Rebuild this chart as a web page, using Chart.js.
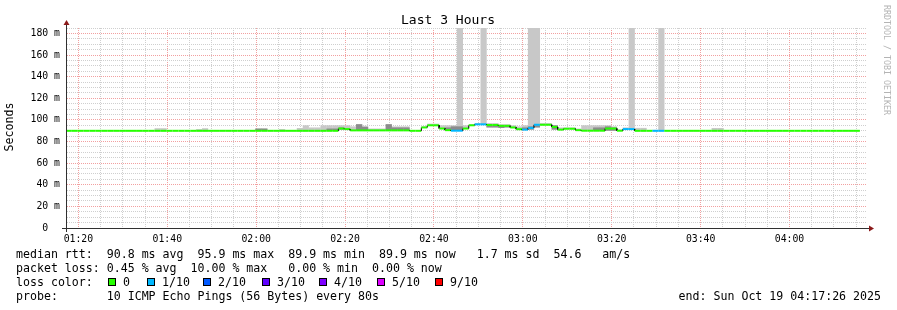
<!DOCTYPE html>
<html>
<head>
<meta charset="utf-8">
<script src="https://cdn.jsdelivr.net/npm/chart.js@4.4.1/dist/chart.umd.min.js"></script>
<style>
  html, body { margin: 0; padding: 0; background: #fff; }
  canvas { display: block; }
</style>
</head>
<body>
<canvas id="ping" width="897" height="310"></canvas>
<script>
// time is seconds since midnight, one sample every 80s
const axisStart = 4646;   // 01:17:26
const axisEnd = 15446;    // 04:17:26
const firstSample = 4630;
const sampleStep = 80;

// median rtt per sample (ms)
const median = [
  89.9, 89.9, 89.9, 89.9, 89.9, 89.9, 89.9, 89.9, 89.9, 89.9,
  89.9, 89.9, 89.9, 89.9, 89.9, 89.9, 89.9, 89.9, 89.9, 89.9,
  89.9, 89.9, 89.9, 89.9, 89.9, 89.9, 89.9, 89.9, 89.9, 89.9,
  89.9, 89.9, 89.9, 89.9, 89.9, 89.9, 89.9, 89.9, 89.9, 89.9,
  89.9, 89.9, 89.9, 89.9, 89.9, 89.9, 92.0, 91.5, 90.3, 90.3,
  90.3, 90.3, 90.3, 90.3, 90.3, 90.3, 90.3, 90.3, 89.9, 89.9,
  93.0, 95.0, 95.0, 92.0, 90.5, 90.0, 90.0, 92.0, 95.0, 95.9,
  95.9, 95.3, 95.3, 94.5, 94.5, 93.0, 91.4, 91.0, 92.6, 95.5,
  95.5, 95.5, 93.5, 91.0, 91.8, 91.8, 90.5, 90.0, 90.0, 90.0,
  90.0, 92.0, 92.0, 90.0, 91.5, 91.5, 89.9, 89.9, 89.9, 89.9,
  89.9, 89.9, 89.9, 89.9, 89.9, 89.9, 89.9, 89.9, 89.9, 89.9,
  89.9, 89.9, 89.9, 89.9, 89.9, 89.9, 89.9, 89.9, 89.9, 89.9,
  89.9, 89.9, 89.9, 89.9, 89.9, 89.9, 89.9, 89.9, 89.9, 89.9,
  89.9, 89.9, 89.9, 89.9
];

// lost pings out of 10 per sample
const loss = [
  0, 0, 0, 0, 0, 0, 0, 0, 0, 0,
  0, 0, 0, 0, 0, 0, 0, 0, 0, 0,
  0, 0, 0, 0, 0, 0, 0, 0, 0, 0,
  0, 0, 0, 0, 0, 0, 0, 0, 0, 0,
  0, 0, 0, 0, 0, 0, 0, 0, 0, 0,
  0, 0, 0, 0, 0, 0, 0, 0, 0, 0,
  0, 0, 0, 0, 0, 1, 1, 0, 0, 1,
  1, 0, 0, 0, 0, 0, 0, 1, 1, 1,
  0, 0, 0, 0, 0, 0, 0, 0, 0, 0,
  0, 0, 0, 0, 1, 1, 0, 0, 0, 1,
  1, 0, 0, 0, 0, 0, 0, 0, 0, 0,
  0, 0, 0, 0, 0, 0, 0, 0, 0, 0,
  0, 0, 0, 0, 0, 0, 0, 0, 0, 0,
  0, 0, 0, 0
];

// top of the light smoke (slowest ping), null = none visible
const smokeTop = [
  null, null, null, null, null, null, null, null, null, null,
  null, null, null, null, null, 92.3, 92.3, null, null, null,
  null, null, 91.5, 92.3, null, null, null, null, null, null,
  null, null, 92, 92, null, null, 91.5, null, null, 92.5,
  95, 93, 93, 95, 95, 95, 95, 95, 94, 96,
  94.5, 92, 92, 92, 96, 94, 94, 94, null, null,
  94, 96.5, 96.5, 95, 95, 95, 200, 95, 96, 97,
  200, 97, 97, 96, 96, 95, 94, 95, 200, 200,
  97, 97, 95, 93, 93, 93, 92, 95, 95, 95,
  95, 95, 94, 91, 93, 200, 92.6, 92.6, null, 90.8,
  200, null, null, null, null, null, null, null, null, 92.5,
  92.5, null, null, null, null, null, null, null, null, null,
  null, null, null, null, null, null, null, null, null, null,
  null, null, null, null
];

// dense smoke band [low, high], null = none visible
const smokeCore = [
  null, null, null, null, null, null, null, null, null, null,
  null, null, null, null, null, null, null, null, null, null,
  null, null, null, null, null, null, null, null, null, null,
  null, null, [89.9, 92], [89.9, 92], null, null, null, null, null, null,
  null, null, null, null, [90, 92], [90, 92], [91, 93], null, null, [90, 96],
  [90, 93.5], null, null, null, [90, 96], [90, 93], [90, 93], [90, 93], null, null,
  null, null, null, null, [90, 93], [90, 94], [90, 94], null, null, null,
  null, [93, 95], [93, 95], [92.5, 95], [93, 95], null, null, [91, 93], [91, 94], [93, 95],
  null, null, [91, 95], null, [91.5, 92.5], null, null, null, null, [90, 93],
  [90, 93], [90, 94], [90, 93], null, null, null, null, null, null, null,
  null, null, null, null, null, null, null, null, null, null,
  null, null, null, null, null, null, null, null, null, null,
  null, null, null, null, null, null, null, null, null, null,
  null, null, null, null
];

const lossSteps = [0, 1, 2, 3, 4, 5, 9];
const lossLabels = ['0', '1/10', '2/10', '3/10', '4/10', '5/10', '9/10'];
const lossColors = ['#26ff00', '#00b8ff', '#0059ff', '#5e00ff', '#7e00ff', '#dd00ff', '#ff0000'];

const statLines = [
  'median rtt:  90.8 ms avg  95.9 ms max  89.9 ms min  89.9 ms now   1.7 ms sd  54.6   am/s',
  'packet loss: 0.45 % avg  10.00 % max   0.00 % min  0.00 % now'
];
const probeLine = 'probe:       10 ICMP Echo Pings (56 Bytes) every 80s';
const endLine = 'end: Sun Oct 19 04:17:26 2025';

const MONO = '"DejaVu Sans Mono", monospace';

function colorForLoss(n) {
  let c = lossColors[0];
  lossSteps.forEach((s, i) => { if (n >= s) c = lossColors[i]; });
  return c;
}

function hhmm(sec) {
  const h = Math.floor(sec / 3600), m = Math.floor(sec / 60) % 60;
  return String(h).padStart(2, '0') + ':' + String(m).padStart(2, '0');
}

// build datasets
const linePts = [];
const outerBars = [];
const coreBars = [];
median.forEach((v, k) => {
  const t0 = firstSample + k * sampleStep;
  linePts.push({x: t0, y: v}, {x: t0 + sampleStep, y: v});
  const mid = t0 + sampleStep / 2;
  const core = smokeCore[k];
  if (smokeTop[k] != null) {
    const lo = core ? Math.min(core[0], v) : v - 0.4;
    outerBars.push({x: mid, y: [lo, smokeTop[k]]});
  }
  if (core) coreBars.push({x: mid, y: core});
});

const decor = {
  id: 'decor',
  afterDraw(chart) {
    const ctx = chart.ctx;
    const a = chart.chartArea;
    ctx.save();

    // axes
    ctx.strokeStyle = '#303030';
    ctx.lineWidth = 1;
    ctx.beginPath();
    ctx.moveTo(a.left - 0.5, a.bottom + 4);
    ctx.lineTo(a.left - 0.5, a.top - 5);
    ctx.moveTo(a.left - 5, a.bottom + 0.5);
    ctx.lineTo(a.right + 3, a.bottom + 0.5);
    ctx.stroke();

    // arrow heads
    ctx.fillStyle = '#8b1a1a';
    ctx.beginPath();
    ctx.moveTo(a.left - 3.5, a.top - 3);
    ctx.lineTo(a.left + 2.5, a.top - 3);
    ctx.lineTo(a.left - 0.5, a.top - 8);
    ctx.closePath();
    ctx.fill();
    ctx.beginPath();
    ctx.moveTo(a.right + 2, a.bottom - 2.5);
    ctx.lineTo(a.right + 2, a.bottom + 3.5);
    ctx.lineTo(a.right + 7, a.bottom + 0.5);
    ctx.closePath();
    ctx.fill();

    // title
    ctx.fillStyle = '#000';
    ctx.font = '13px ' + MONO;
    ctx.textAlign = 'center';
    ctx.textBaseline = 'alphabetic';
    ctx.fillText('Last 3 Hours', 448, 24);

    // vertical label
    ctx.font = '11.6px ' + MONO;
    ctx.save();
    ctx.translate(10, 127);
    ctx.rotate(-Math.PI / 2);
    ctx.textBaseline = 'middle';
    ctx.fillText('Seconds', 0, 0);
    ctx.restore();

    // watermark
    ctx.save();
    ctx.fillStyle = '#b4b4b4';
    ctx.font = '8.3px ' + MONO;
    ctx.translate(886.5, 5);
    ctx.rotate(Math.PI / 2);
    ctx.textAlign = 'left';
    ctx.textBaseline = 'middle';
    ctx.fillText('RRDTOOL / TOBI OETIKER', 0, 0);
    ctx.restore();

    // legend rows
    ctx.font = '11.6px ' + MONO;
    ctx.textAlign = 'left';
    ctx.textBaseline = 'alphabetic';
    ctx.fillStyle = '#000';
    ctx.fillText(statLines[0], 16, 258.4);
    ctx.fillText(statLines[1], 16, 272.4);
    ctx.fillText('loss color:', 16, 286.4);
    const swatchX = [108, 147, 203, 262, 319, 377, 435];
    lossLabels.forEach((lab, i) => {
      const x = swatchX[i];
      ctx.fillStyle = lossColors[i];
      ctx.fillRect(x, 278, 8, 8);
      ctx.strokeStyle = '#000';
      ctx.strokeRect(x + 0.5, 278.5, 7, 7);
      ctx.fillStyle = '#000';
      ctx.fillText(lab, x + 15, 286.4);
    });
    ctx.fillText(probeLine, 16, 300.4);
    ctx.textAlign = 'right';
    ctx.fillText(endLine, 881, 300.4);

    ctx.restore();
  }
};

new Chart(document.getElementById('ping'), {
  type: 'bar',
  data: {
    datasets: [
      {
        type: 'line',
        data: linePts,
        order: 1,
        borderColor: lossColors[0],
        borderWidth: 2,
        pointRadius: 0,
        segment: {
          borderColor: c => c.p0DataIndex % 2 === 1 ? '#000' : colorForLoss(loss[c.p0DataIndex >> 1]),
          borderWidth: c => c.p0DataIndex % 2 === 1 ? 1 : 2
        }
      },
      {
        data: coreBars,
        order: 2,
        grouped: false,
        backgroundColor: '#8c8c8c',
        borderWidth: 0,
        barPercentage: 1.05,
        categoryPercentage: 1
      },
      {
        data: outerBars,
        order: 3,
        grouped: false,
        backgroundColor: '#c8c8c8',
        borderWidth: 0,
        barPercentage: 1.05,
        categoryPercentage: 1
      }
    ]
  },
  options: {
    responsive: false,
    animation: false,
    devicePixelRatio: 1,
    layout: { padding: { top: 28, right: 30, left: 0, bottom: 0 } },
    plugins: { legend: { display: false }, tooltip: { enabled: false }, title: { display: false } },
    scales: {
      x: {
        type: 'linear',
        min: axisStart,
        max: axisEnd,
        offset: false,
        afterFit: s => { s.height = 82; },
        afterBuildTicks: s => {
          const t = [];
          for (let v = 4800; v <= axisEnd; v += 300) t.push({value: v});
          s.ticks = t;
        },
        grid: {
          offset: false,
          drawTicks: false,
          lineWidth: 1,
          color: c => (c.tick && c.tick.value % 1200 === 0) ? '#f2a0a0' : '#cfcfcf'
        },
        border: { display: false, dash: [1, 1] },
        ticks: {
          autoSkip: false,
          maxRotation: 0,
          padding: 6,
          color: '#000',
          font: { family: MONO, size: 9.8 },
          callback: v => v % 1200 === 0 ? hhmm(v) : ''
        }
      },
      y: {
        type: 'linear',
        min: 0,
        max: 185,
        afterFit: s => { s.width = 67; },
        afterBuildTicks: s => {
          const t = [];
          for (let v = 0; v <= 185; v += 5) t.push({value: v});
          s.ticks = t;
        },
        grid: {
          drawTicks: false,
          lineWidth: 1,
          color: c => (c.tick && c.tick.value % 20 === 0) ? '#f2a0a0' : '#cfcfcf'
        },
        border: { display: false, dash: [1, 1] },
        ticks: {
          autoSkip: false,
          padding: 7,
          color: '#000',
          font: { family: MONO, size: 9.8 },
          callback: v => v % 20 === 0 ? (v === 0 ? '0  ' : v + ' m') : ''
        }
      }
    }
  },
  plugins: [decor]
});
</script>
</body>
</html>
